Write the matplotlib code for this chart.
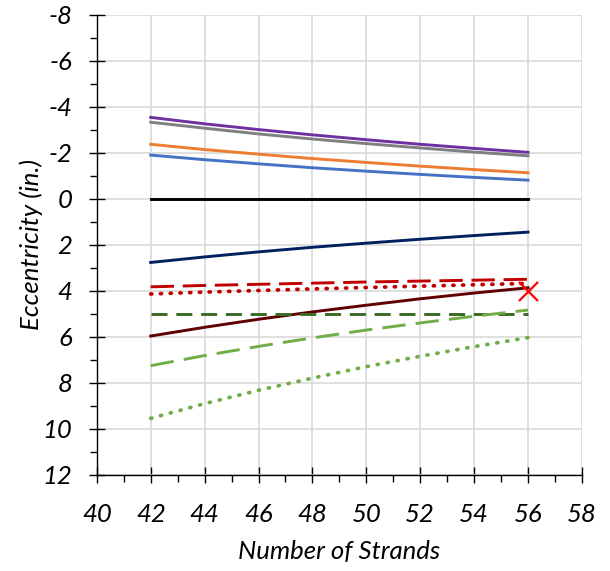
import matplotlib
matplotlib.use('Agg')
import matplotlib.pyplot as plt
from matplotlib.ticker import MultipleLocator

# data: eccentricity (in.) vs number of strands
strands = [42, 44, 46, 48, 50, 52, 54, 56]

purple = [-3.54, -3.26, -3.01, -2.78, -2.57, -2.37, -2.19, -2.02]
gray = [-3.33, -3.07, -2.82, -2.60, -2.40, -2.21, -2.03, -1.87]
orange = [-2.37, -2.14, -1.94, -1.75, -1.58, -1.42, -1.27, -1.13]
blue = [-1.90, -1.70, -1.52, -1.35, -1.20, -1.06, -0.93, -0.81]
black = [0, 0, 0, 0, 0, 0, 0, 0]
navy = [2.77, 2.53, 2.31, 2.11, 1.93, 1.76, 1.60, 1.45]
red_dash = [3.83, 3.77, 3.72, 3.67, 3.62, 3.58, 3.54, 3.50]
red_dot = [4.14, 4.06, 3.99, 3.92, 3.86, 3.80, 3.74, 3.68]
maroon = [5.97, 5.59, 5.24, 4.92, 4.63, 4.35, 4.10, 3.87]
dkgreen_dash = [5.0, 5.0, 5.0, 5.0, 5.0, 5.0, 5.0, 5.0]
ltgreen_dash = [7.26, 6.82, 6.42, 6.05, 5.71, 5.40, 5.11, 4.84]
ltgreen_dot = [9.55, 8.91, 8.33, 7.80, 7.30, 6.85, 6.43, 6.04]

marker_x = [56]
marker_y = [4.0]

plt.rcParams['font.family'] = ['Lato', 'DejaVu Sans']
plt.rcParams['axes.unicode_minus'] = False

fig = plt.figure(figsize=(6.10, 5.71), dpi=100)
ax = fig.add_axes([0.1587, 0.1687, 0.954 - 0.1587, 0.974 - 0.1687])

lw = 2.1
ax.plot(strands, purple, color='#7030A0', lw=lw)
ax.plot(strands, gray, color='#7F7F7F', lw=lw)
ax.plot(strands, orange, color='#ED7D31', lw=lw)
ax.plot(strands, blue, color='#4472C4', lw=lw)
ax.plot(strands, black, color='#000000', lw=lw)
ax.plot(strands, navy, color='#002060', lw=lw)
ax.plot(strands, red_dash, color='#C00000', lw=lw, dashes=(8, 3))
ax.plot(strands, red_dot, color='#C00000', lw=2.7, dashes=(0.3, 2.3),
        dash_capstyle='round')
ax.plot(strands, maroon, color='#600000', lw=lw)
ax.plot(strands, dkgreen_dash, color='#3A6B26', lw=lw, dashes=(5.5, 3))
ax.plot(strands, ltgreen_dash, color='#70AD47', lw=lw, dashes=(8, 3.5))
ax.plot(strands, ltgreen_dot, color='#70AD47', lw=2.7, dashes=(0.3, 2.4),
        dash_capstyle='round')
ax.scatter(marker_x, marker_y, marker='x', s=190, color='#FF0000',
           linewidths=1.6, zorder=5, clip_on=False)

ax.set_xlim(40, 58)
ax.set_ylim(12, -8)
ax.xaxis.set_major_locator(MultipleLocator(2))
ax.xaxis.set_minor_locator(MultipleLocator(1))
ax.yaxis.set_major_locator(MultipleLocator(2))
ax.yaxis.set_minor_locator(MultipleLocator(1))

ax.grid(True, which='major', color='#D9D9D9', linewidth=1.2)
ax.set_axisbelow(True)
for s in ['top', 'right']:
    ax.spines[s].set_visible(False)
for s in ['left', 'bottom']:
    ax.spines[s].set_color('black')
    ax.spines[s].set_linewidth(1.0)

ax.tick_params(which='major', direction='inout', length=11, width=1.0,
               labelsize=18.5)
ax.tick_params(axis='x', which='major', pad=15)
ax.tick_params(axis='y', which='major', pad=12)
ax.tick_params(which='minor', direction='out', length=5, width=1.0)
for lab in ax.get_xticklabels() + ax.get_yticklabels():
    lab.set_fontstyle('italic')

ax.set_xlabel('Number of Strands', fontsize=18.5, fontstyle='italic', labelpad=10)
ax.set_ylabel('Eccentricity (in.)', fontsize=18.5, fontstyle='italic', labelpad=0)

fig.savefig('out.png', dpi=100)
